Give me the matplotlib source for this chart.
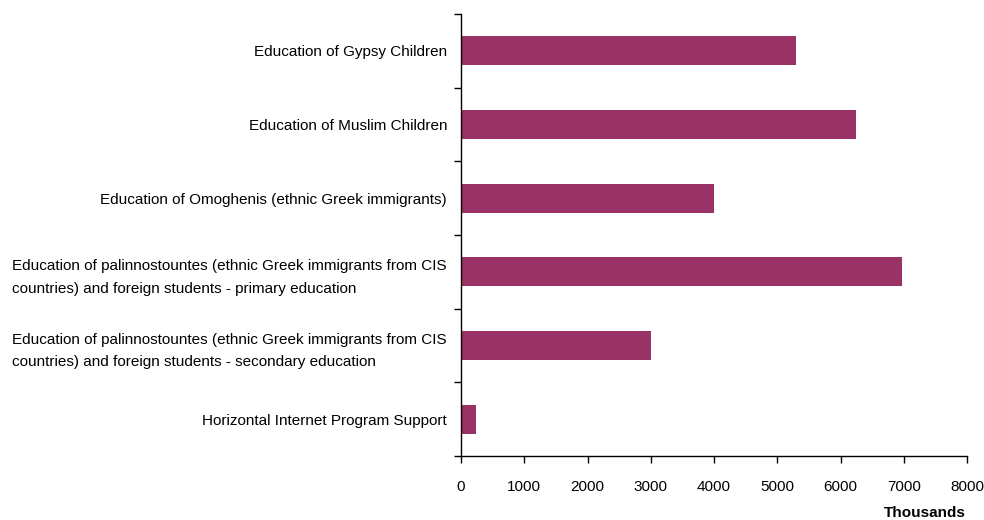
import numpy as np
import matplotlib.pyplot as plt
from matplotlib.ticker import FixedLocator

# Programme names (top to bottom) and amounts in thousands
programs = [
    'Education of Gypsy Children',
    'Education of Muslim Children',
    'Education of Omoghenis (ethnic Greek immigrants)',
    'Education of palinnostountes (ethnic Greek immigrants from CIS\ncountries) and foreign students - primary education',
    'Education of palinnostountes (ethnic Greek immigrants from CIS\ncountries) and foreign students - secondary education',
    'Horizontal Internet Program Support',
]
amounts = [5290, 6240, 4000, 6980, 3000, 232]
x_ticks = [0, 1000, 2000, 3000, 4000, 5000, 6000, 7000, 8000]

plt.rcParams['font.family'] = ['Liberation Sans Narrow', 'Liberation Sans', 'DejaVu Sans']

fig = plt.figure(figsize=(9.84, 5.2), dpi=100)
ax = fig.add_axes([461 / 984, 1 - 456 / 520, 506 / 984, 442 / 520])

y = np.arange(len(programs))[::-1]
ax.barh(y, amounts, height=0.39, color='#993366')

ax.set_xlim(0, 8000)
ax.set_ylim(-0.5, len(programs) - 0.5)
ax.set_xticks(x_ticks)
ax.set_xticklabels([str(t) for t in x_ticks], fontsize=11)
ax.set_yticks(y)
ax.set_yticklabels(programs, fontsize=11, linespacing=1.75)
ax.yaxis.set_minor_locator(FixedLocator(np.arange(-0.5, len(programs), 1.0)))

ax.tick_params(axis='y', which='major', length=0, pad=10)
ax.tick_params(axis='y', which='minor', length=5, width=1, direction='out')
ax.tick_params(axis='x', length=5, width=1, direction='out', pad=12)
for lbl in ax.get_yticklabels():
    lbl.set_horizontalalignment('right')
    lbl.set_multialignment('left')

for s in ['top', 'right']:
    ax.spines[s].set_visible(False)
for s in ['left', 'bottom']:
    ax.spines[s].set_linewidth(1)

fig.text(925 / 984, 1 - 513 / 520, 'Thousands', ha='center', va='center',
         fontsize=11, fontweight='bold')

plt.savefig('out.png', dpi=100)
